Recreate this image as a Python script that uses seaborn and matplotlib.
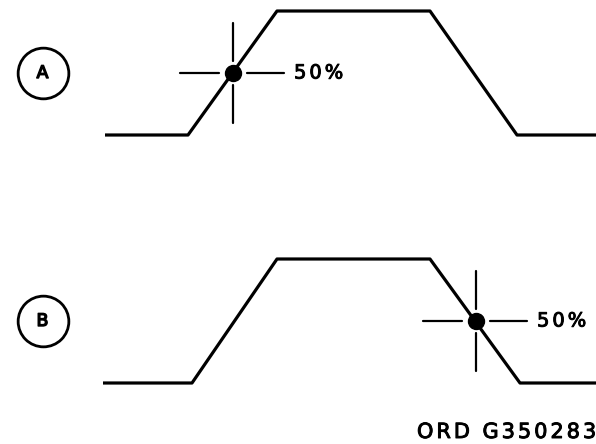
import matplotlib
matplotlib.use("Agg")
import matplotlib.pyplot as plt
import matplotlib.patheffects as pe
from matplotlib.textpath import TextToPath
from matplotlib.font_manager import FontProperties
import seaborn as sns
import pandas as pd

# ---- data (time in drawing units, level 0 = low, 1 = high) ----
panel_labels = ["A", "B"]
wave_a_time = [105, 188, 277, 430, 517, 596]
wave_a_level = [0, 0, 1, 1, 0, 0]
wave_b_time = [103, 192, 277, 430, 520, 596]
wave_b_level = [0, 0, 1, 1, 0, 0]
mark_time = [233, 476]          # 50% crossing point of each panel
mark_level = [0.5, 0.5]
mark_text = "50%"
drawing_id = "ORD G350283"

sns.set_theme(style="white")
plt.rcParams["font.family"] = ["DejaVu Sans"]

W, H = 596, 444
DPI = 100
fig = plt.figure(figsize=(W / DPI, H / DPI), dpi=DPI)
fig.patch.set_facecolor("white")

_t2p = TextToPath()
heavy = [pe.withStroke(linewidth=0.7, foreground="black")]


def tracked_text(ax, x0, y, s, size, tracking):
    """Draw text starting at x0 (x in pixel units) with extra letter spacing."""
    prop = FontProperties(family="DejaVu Sans", size=size)
    x = x0
    for ch in s:
        w, _, _ = _t2p.get_text_width_height_descent(ch, prop, ismath=False)
        wpx = w * DPI / 72.0
        if ch != " ":
            ax.text(x, y, ch, ha="left", va="center", fontproperties=prop,
                    color="black", path_effects=heavy)
        x += wpx + tracking


axes_specs = [
    (0.5, 0.5, (-87 / 124, 1 + 11 / 124)),
    (0.0, 0.5, (-61 / 124, 1 + 37 / 124)),
]
waves = [(wave_a_time, wave_a_level), (wave_b_time, wave_b_level)]

for i, (bottom, height, ylim) in enumerate(axes_specs):
    ax = fig.add_axes([0, bottom, 1, height])
    ax.set_xlim(0, W)
    ax.set_ylim(*ylim)
    ax.axis("off")

    t, lvl = waves[i]
    df = pd.DataFrame({"time": t, "level": lvl})
    sns.lineplot(data=df, x="time", y="level", ax=ax, sort=False,
                 estimator=None, color="black", linewidth=2.3,
                 solid_joinstyle="round", solid_capstyle="butt")

    mt, ml = mark_time[i], mark_level[i]
    vh = 50 / 124
    vg = 12 / 124
    ax.plot([mt, mt], [ml + vg, ml + vh], color="black", lw=1.6)
    ax.plot([mt, mt], [ml - vg, ml - vh], color="black", lw=1.6)
    ax.plot([mt - 53, mt - 14], [ml, ml], color="black", lw=1.6)
    ax.plot([mt + 14, mt + 51], [ml, ml], color="black", lw=1.6)
    ax.plot([mt], [ml], marker="o", markersize=11.5, color="black")
    tracked_text(ax, mt + 61, ml, mark_text, 14, 3)

    ax.plot([42.5], [ml], marker="o", markersize=36.5, markerfacecolor="white",
            markeredgecolor="black", markeredgewidth=2.0, linestyle="none")
    ax.text(42.5, ml, panel_labels[i], fontsize=12.5, ha="center",
            va="center", color="black",
            path_effects=[pe.withStroke(linewidth=1.0, foreground="black")])

ax_fig = fig.add_axes([0, 0, 1, 1])
ax_fig.set_xlim(0, W)
ax_fig.set_ylim(H, 0)
ax_fig.axis("off")
ax_fig.patch.set_alpha(0)
tracked_text(ax_fig, 417, 432, drawing_id, 15, 3)

fig.savefig("out.png", dpi=DPI, facecolor="white")
